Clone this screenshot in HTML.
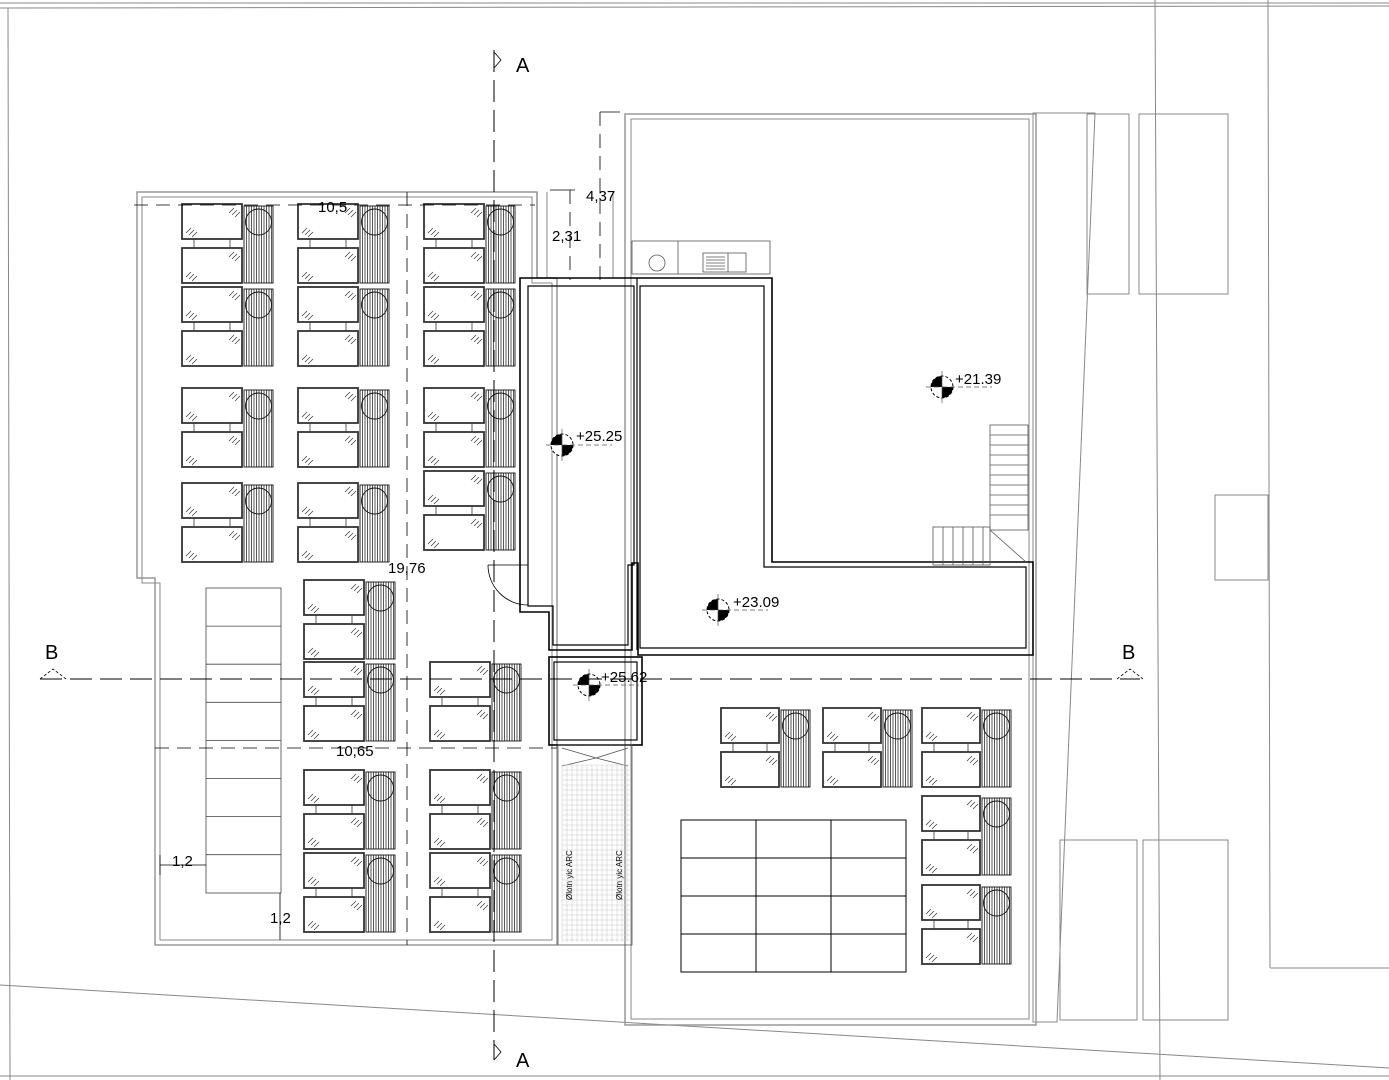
<!DOCTYPE html>
<html><head><meta charset="utf-8"><style>
html,body{margin:0;padding:0;background:#fff}
svg{display:block}
text{font-family:"Liberation Sans",sans-serif;fill:#000}
</style></head><body>
<svg id="s" width="1389" height="1080" viewBox="0 0 1389 1080" xmlns="http://www.w3.org/2000/svg">
<g fill="none" stroke="#888" stroke-width="1">
 <line x1="0" y1="3" x2="1389" y2="3"/>
 <line x1="0" y1="8" x2="1389" y2="6"/>
 <line x1="8" y1="8" x2="10" y2="1080"/>
 <line x1="1155" y1="0" x2="1160" y2="1080"/>
 <line x1="1268" y1="0" x2="1270" y2="968"/>
 <line x1="1270" y1="968" x2="1389" y2="968"/>
 <line x1="0" y1="985" x2="1389" y2="1068"/>
 <line x1="0" y1="1076" x2="1389" y2="1076"/>
 <rect x="1087" y="114" width="42" height="180"/>
 <rect x="1139" y="114" width="89" height="180"/>
 <rect x="1060" y="840" width="77" height="180"/>
 <rect x="1143" y="840" width="85" height="180"/>
 <rect x="1215" y="495" width="53" height="85"/>
 <polygon points="1033,113 1095,113 1057,1022 1033,1022"/>
 <rect x="625" y="114" width="411" height="911" stroke="#999" stroke-width="1.5"/>
 <rect x="631" y="119" width="398" height="900"/>
 <polygon points="137,192 537,192 537,278 557,278 557,945 155,945 155,578 137,578" stroke="#999" stroke-width="1.5"/>
 <polygon points="142,197 532,197 532,283 552,283 552,940 160,940 160,583 142,583"/>
 <line x1="537" y1="192" x2="537" y2="278"/><line x1="547" y1="192" x2="547" y2="278"/>
 <line x1="613" y1="192" x2="613" y2="278"/>
</g>
<g fill="none" stroke="#000" stroke-width="1.2">
 <polygon points="520,278 772,278 772,562 1033,562 1033,655 638,655 638,563 632,563 632,650 549,650 549,612 520,612" stroke-width="1.6"/>
 <polygon points="528,286 634,286 634,565 628,565 628,645 553,645 553,606 528,606"/>
 <polygon points="640,286 764,286 764,567 1026,567 1026,648 640,648"/>
 <line x1="637" y1="278" x2="637" y2="650"/>
 <rect x="549" y="657" width="93" height="88" stroke-width="1.6"/>
 <rect x="554" y="662" width="83" height="78"/>
 <path d="M488,565 L528,565 M488,565 A40,40 0 0 0 528,605" stroke-width="0.8"/>
</g>
<g fill="none" stroke="#555" stroke-width="0.8">
 <rect x="632" y="241" width="138" height="33"/>
 <line x1="678" y1="241" x2="678" y2="274"/>
 <circle cx="657" cy="263" r="8"/>
 <rect x="703" y="253" width="43" height="19"/>
 <line x1="728" y1="253" x2="728" y2="272"/>
 <path d="M706,257 h19 M706,260 h19 M706,263 h19 M706,266 h19 M706,269 h19"/>
 <rect x="558" y="745" width="74" height="200"/>
 <path d="M562,748 L596,758 L562,766 M628,748 L596,758 L628,766"/>
 <rect x="990" y="425" width="38" height="105"/>
 <path d="M990,435 h38 M990,445 h38 M990,455 h38 M990,465 h38 M990,475 h38 M990,485 h38 M990,495 h38 M990,505 h38 M990,515 h38"/>
 <rect x="933" y="527" width="57" height="38"/>
 <path d="M943,527 v38 M953,527 v38 M963,527 v38 M973,527 v38 M983,527 v38"/>
 <line x1="990" y1="530" x2="1026" y2="562"/>
</g>
<g id="dyn"></g>
<g fill="none" stroke="#000" stroke-width="1" stroke-dasharray="22,8">
 <line x1="494" y1="50" x2="494" y2="1060"/>
 <line x1="40" y1="679" x2="1140" y2="679"/>
</g>
<g fill="none" stroke="#000" stroke-width="0.8" stroke-dasharray="14,8">
 <line x1="134" y1="205" x2="535" y2="205"/>
 <line x1="407" y1="192" x2="407" y2="945"/>
 <line x1="155" y1="748" x2="557" y2="748"/>
 <line x1="570" y1="190" x2="570" y2="280"/>
 <line x1="600" y1="112" x2="600" y2="280"/>
</g>
<g stroke="#000" stroke-width="0.8">
 <line x1="600" y1="112" x2="620" y2="112"/><line x1="550" y1="190" x2="575" y2="190"/>
 <line x1="160" y1="855" x2="160" y2="875"/><line x1="160" y1="865" x2="206" y2="865"/>
 <line x1="280" y1="893" x2="280" y2="940"/>
 <path d="M494,52 L501,60 L494,68 M494,1044 L501,1052 L494,1060" fill="none"/>
 <path d="M40,679 L53,669 L66,679 M1117,679 L1130,669 L1143,679" fill="none" stroke-dasharray="3,2"/>
</g>
<g font-size="15">
 <text x="318" y="212">10,5</text>
 <text x="586" y="201">4,37</text>
 <text x="552" y="241">2,31</text>
 <text x="388" y="573">19,76</text>
 <text x="336" y="756">10,65</text>
 <text x="172" y="866">1,2</text>
 <text x="270" y="923">1,2</text>
 <text x="955" y="384">+21.39</text>
 <text x="576" y="441">+25.25</text>
 <text x="733" y="607">+23.09</text>
 <text x="601" y="682">+25.62</text>
</g>
<g font-size="20">
 <text x="516" y="72">A</text><text x="516" y="1067">A</text>
 <text x="45" y="659">B</text><text x="1122" y="659">B</text>
</g>
<g font-size="8" fill="#444">
 <text transform="translate(572,900) rotate(-90)">Ølotn yic ARC</text>
 <text transform="translate(622,900) rotate(-90)">Ølotn yic ARC</text>
</g>
</svg>
<script>
var g=document.getElementById('dyn'),h='';
function panel(x,y,w){h+='<rect x="'+x+'" y="'+y+'" width="'+w+'" height="35" fill="none" stroke="#333" stroke-width="1.8"/>';
h+='<path d="M'+(x+w-13)+','+(y+9)+' l5,-5 M'+(x+w-10)+','+(y+11)+' l5,-5 M'+(x+w-7)+','+(y+13)+' l5,-5 M'+(x+4)+','+(y+29)+' l5,-5 M'+(x+7)+','+(y+31)+' l5,-5 M'+(x+10)+','+(y+33)+' l5,-5" stroke="#333" stroke-width="0.7"/>';}
function grp(x,y,w){w=w||60;panel(x,y,w);panel(x,y+44,w);
h+='<line x1="'+(x+12)+'" y1="'+(y+35)+'" x2="'+(x+12)+'" y2="'+(y+44)+'" stroke="#333" stroke-width="0.8"/><line x1="'+(x+w-12)+'" y1="'+(y+35)+'" x2="'+(x+w-12)+'" y2="'+(y+44)+'" stroke="#333" stroke-width="0.8"/>';
var hx=x+w+2,hw=29;h+='<rect x="'+hx+'" y="'+(y+2)+'" width="'+hw+'" height="77" fill="none" stroke="#111" stroke-width="0.9"/>';
var d='';for(var i=2.5;i<hw;i+=2.5)d+='M'+(hx+i)+','+(y+2)+' v77 ';h+='<path d="'+d+'" stroke="#111" stroke-width="0.7"/>';
h+='<circle cx="'+(hx+hw/2)+'" cy="'+(y+18)+'" r="13" fill="none" stroke="#111" stroke-width="0.9"/>';}
[204,287,388,483].forEach(function(y){grp(182,y);grp(298,y);});
[204,287,388,471].forEach(function(y){grp(424,y);});
[580,662,770,853].forEach(function(y){grp(304,y);});
[662,770,853].forEach(function(y){grp(430,y);});
grp(721,708,58);grp(823,708,58);grp(922,708,58);grp(922,796,58);grp(922,885,58);
h+='<rect x="206" y="588" width="75" height="305" fill="none" stroke="#444" stroke-width="0.8"/>';
for(var i=1;i<8;i++)h+='<line x1="206" y1="'+(588+i*38.1)+'" x2="281" y2="'+(588+i*38.1)+'" stroke="#444" stroke-width="0.8"/>';
h+='<rect x="681" y="820" width="225" height="152" fill="none" stroke="#000" stroke-width="1"/>';
for(i=1;i<3;i++)h+='<line x1="'+(681+i*75)+'" y1="820" x2="'+(681+i*75)+'" y2="972" stroke="#000"/>';
for(i=1;i<4;i++)h+='<line x1="681" y1="'+(820+i*38)+'" x2="906" y2="'+(820+i*38)+'" stroke="#000"/>';
var d='';for(i=562;i<630;i+=5)d+='M'+i+',765 V942 ';for(i=765;i<942;i+=5)d+='M562,'+i+' H630 ';
h+='<path d="'+d+'" stroke="#ccc" stroke-width="0.6"/>';
[[562,445],[942,387],[718,610],[589,685]].forEach(function(p){var x=p[0],y=p[1];
h+='<circle cx="'+x+'" cy="'+y+'" r="11" fill="#fff" stroke="#000" stroke-width="1" stroke-dasharray="3,2"/>';
h+='<path d="M'+x+','+y+' L'+(x-11)+','+y+' A11,11 0 0 1 '+x+','+(y-11)+' Z M'+x+','+y+' L'+(x+11)+','+y+' A11,11 0 0 1 '+x+','+(y+11)+' Z" fill="#000"/>';
h+='<line x1="'+x+'" y1="'+(y-16)+'" x2="'+x+'" y2="'+(y+16)+'" stroke="#555" stroke-width="0.7"/><line x1="'+(x-16)+'" y1="'+y+'" x2="'+(x+50)+'" y2="'+y+'" stroke="#555" stroke-width="0.7" stroke-dasharray="5,3"/>';});
g.innerHTML=h;
</script>
</body></html>
